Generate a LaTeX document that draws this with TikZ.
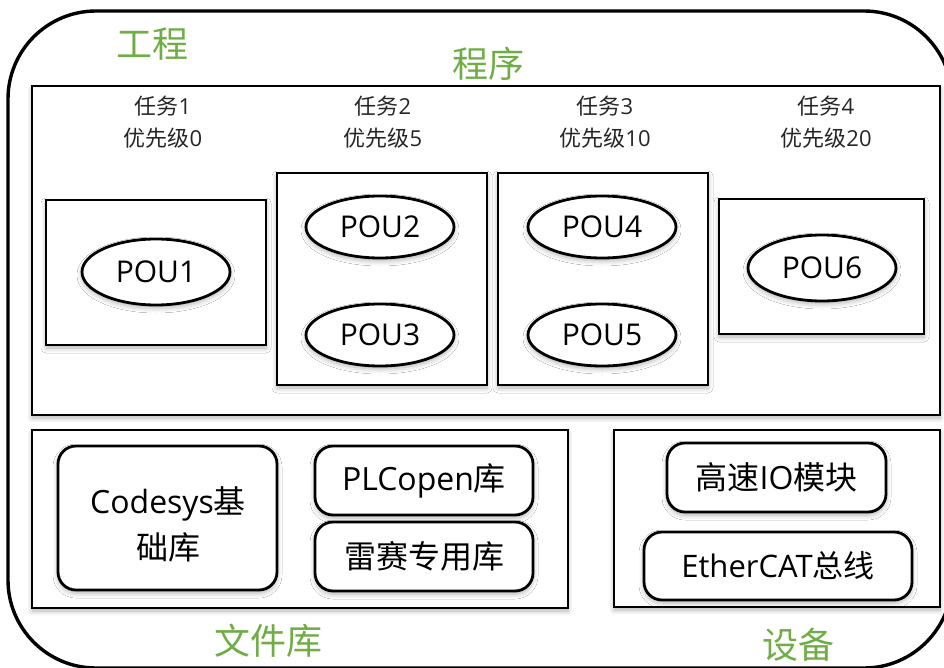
\documentclass[tikz,border=0pt]{standalone}
\usepackage{fontspec}
\setmainfont{Open Sans}
\newfontfamily\cjk{Noto Sans CJK SC}
\usetikzlibrary{shapes.geometric,shadows.blur}
\definecolor{labgreen}{HTML}{70AD47}
\newcommand\zh[1]{{\cjk #1}}
\begin{document}
\begin{tikzpicture}[x=1pt,y=-1pt,
  shd/.style={blur shadow={shadow blur steps=6,shadow xshift=0pt,shadow yshift=-3pt,shadow opacity=30,shadow blur radius=5pt,shadow scale=1}},
  box/.style={draw,line width=2.8pt,fill=white,inner sep=0pt,shd},
  rbox/.style={draw,line width=2.8pt,fill=white,rounded corners=18pt,inner sep=0pt,align=center,font=\fontsize{32}{46}\selectfont,shd},
  pou/.style={draw,ellipse,line width=2.8pt,fill=white,minimum width=148pt,minimum height=66pt,inner sep=0pt,font=\fontsize{30}{30}\selectfont,shd},
  tasklab/.style={align=center,font=\fontsize{22}{32}\selectfont,inner sep=0pt,text=black!85},
  grn/.style={text=labgreen,font=\cjk\fontsize{36}{38}\selectfont,inner sep=0pt}
]
\useasboundingbox (0,0) rectangle (944,668);
\begin{scope}
\clip (0,0) rectangle (944,668);
\draw[line width=3.4pt,rounded corners=88pt] (8,11) rectangle (952,668);
\end{scope}
\node[grn] (gc) at (152,44) {工程};
\node[grn] (prg) at (488,64) {程序};
\node[grn] (wjk) at (268,641) {文件库};
\node[grn] (sb) at (798,645) {设备};

\node[box,minimum width=908pt,minimum height=329pt] (prog) at (486,250.5) {};
\node[box,minimum width=220pt,minimum height=145pt] (t1) at (156,272.5) {};
\node[box,minimum width=210pt,minimum height=212pt] (t2) at (382,279) {};
\node[box,minimum width=210pt,minimum height=212pt] (t3) at (603,279) {};
\node[box,minimum width=205pt,minimum height=135pt] (t4) at (821.5,266.5) {};

\node[tasklab] (l1) at (163,122) {\zh{任务}1\\\zh{优先级}0};
\node[tasklab] (l2) at (383,122) {\zh{任务}2\\\zh{优先级}5};
\node[tasklab] (l3) at (605,122) {\zh{任务}3\\\zh{优先级}10};
\node[tasklab] (l4) at (826,122) {\zh{任务}4\\\zh{优先级}20};

\node[pou] (p1) at (156,272) {POU1};
\node[pou,minimum height=62pt] (p2) at (380,227) {POU2};
\node[pou,minimum height=62pt] (p3) at (380,335) {POU3};
\node[pou,minimum height=62pt] (p4) at (602,227) {POU4};
\node[pou,minimum height=62pt] (p5) at (602,335) {POU5};
\node[pou] (p6) at (822,268) {POU6};

\node[box,minimum width=536pt,minimum height=178pt] (lib) at (300,519) {};
\node[rbox,minimum width=219pt,minimum height=144pt] (cds) at (167.5,518) {};
\node (cdst) at (168,524) [align=center,inner sep=0pt,font=\fontsize{32}{46}\selectfont] {Codesys\zh{基}\\\zh{础库}};
\node[rbox,minimum width=218pt,minimum height=69pt] (plc) at (424,480.5) {PLCopen\zh{库}};
\node[rbox,minimum width=218pt,minimum height=69pt] (ls) at (424,556.5) {\zh{雷赛专用库}};

\node[box,minimum width=326pt,minimum height=177pt] (dev) at (777,518.5) {};
\node[rbox,minimum width=219pt,minimum height=69pt] (io) at (776.5,477.5) {\zh{高速}IO\zh{模块}};
\node[rbox,minimum width=268pt,minimum height=68pt,font=\fontsize{31}{34}\selectfont] (ec) at (778,566) {EtherCAT\zh{总线}};
\end{tikzpicture}
\end{document}
